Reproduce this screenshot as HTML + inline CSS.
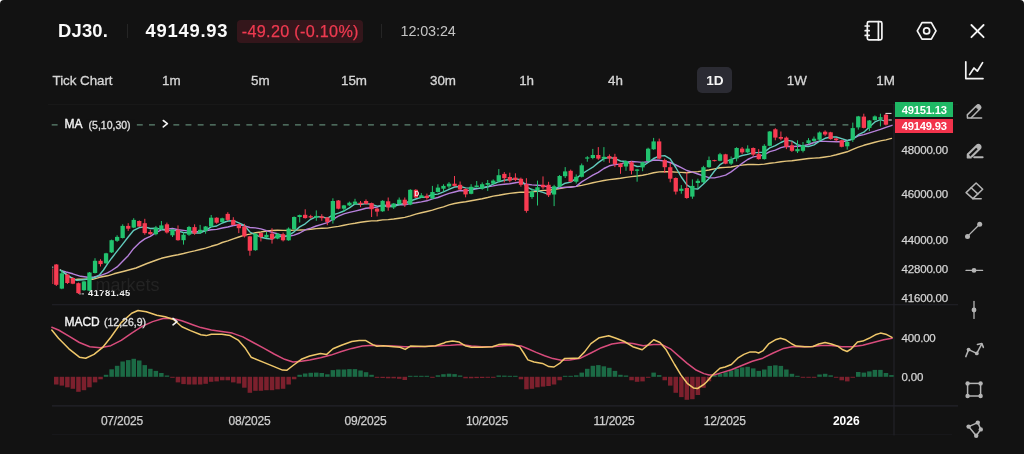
<!DOCTYPE html>
<html><head><meta charset="utf-8"><title>DJ30</title>
<style>
html,body{margin:0;padding:0;background:#fff;}
body{width:1024px;height:454px;overflow:hidden;font-family:"Liberation Sans",sans-serif;}
#app{position:relative;width:1024px;height:454px;background:#121212;border-radius:4px 4px 0 0;overflow:hidden;}
svg{position:absolute;left:0;top:0;}
.t{position:absolute;white-space:nowrap;line-height:1;}
.L{transform:translateY(-50%);}
.C{transform:translate(-50%,-50%);}
.badge{position:absolute;left:237px;top:19.5px;width:126px;height:23px;background:#34161b;border-radius:4px;}
.tf{position:absolute;left:697.2px;top:67.2px;width:35.2px;height:26px;background:#2b2b33;border-radius:5px;}
.div{position:absolute;width:1px;height:14px;top:24px;background:#252525;}
.lg{position:absolute;left:895px;top:102.3px;width:57.6px;height:15.2px;background:#1fb865;}
.lr{position:absolute;left:895px;top:118.6px;width:57.6px;height:14.8px;background:#f2334b;}
#layer{position:absolute;left:0;top:0;width:1024px;height:454px;filter:blur(0.45px);}
</style></head><body><div id="app"><div id="layer">
<div class="badge"></div><div class="tf"></div>
<div class="div" style="left:126.5px"></div><div class="div" style="left:381px"></div>
<svg width="1024" height="454" viewBox="0 0 1024 454">
<line x1="48" y1="104.5" x2="958" y2="104.5" stroke="#181818" stroke-width="1"/>
<line x1="52" y1="304.8" x2="958" y2="304.8" stroke="#23232a" stroke-width="1.1"/>
<line x1="52" y1="405.9" x2="958" y2="405.9" stroke="#23232a" stroke-width="1.1"/>
<line x1="52" y1="434.6" x2="952" y2="434.6" stroke="#19191c" stroke-width="1"/>
<line x1="894" y1="104" x2="894" y2="435.5" stroke="#23232a" stroke-width="1.1"/>
<line x1="51.7" y1="124.9" x2="848.4" y2="124.9" stroke="#5f8573" stroke-width="1.1" stroke-dasharray="5.9 6.266"/>
<polyline points="60.4,270 64.9,273.4 70,277 74.8,279.6 78,279.3 92.6,279.3 99.6,277.3 107.5,275.8 114,273.8 125,271 136,268 147,263.5 158,259.5 161.4,258.3 166.9,257 172.5,255.7 178,254.7 183.5,253.5 189,252.1 194.6,250.9 200.1,249.5 205.6,248.1 211.2,246.3 216.7,244.8 222.2,242.5 227.8,240.8 233.3,238.8 238.8,237 244.4,235.1 249.9,234.1 255.4,232.8 260.9,232 266.5,231 272,230.5 277.5,230.3 283.1,230.4 288.6,230.5 294.1,230.1 299.7,230 305.2,229.7 310.7,229.2 316.3,228.6 321.8,228.2 327.3,228.1 332.9,227.1 338.4,226.4 343.9,225.2 349.4,224.1 355,223.3 360.5,222.3 366,221.5 371.6,220.9 377.1,220.7 382.6,219.9 388.2,219.6 393.7,219 399.2,218.2 404.8,217.4 410.3,215.9 415.8,214.1 421.3,212.8 426.9,211.5 432.4,210.1 437.9,208.4 443.5,206.8 449,204.9 454.5,203.5 460.1,202.5 465.6,201.8 471.1,200.8 476.7,199.7 482.2,198.7 487.7,197.5 493.2,196.1 498.8,195.3 504.3,194.3 509.8,193.4 515.4,192.7 520.9,192.1 526.4,192.3 532,191.9 537.5,191.2 543,190.4 548.6,190.2 554.1,189.5 559.6,188.6 565.2,187.6 570.7,186.9 576.2,186.4 581.7,185.4 587.3,184.1 592.8,182.7 598.3,181.6 603.9,180.5 609.4,179.6 614.9,179 620.5,178.3 626,177.4 631.5,176.6 637.1,176 642.6,175.2 648.1,174.1 653.6,172.7 659.2,171.9 664.7,171.7 670.2,171.7 675.8,172.1 681.3,172.4 686.8,172.8 692.4,172 697.9,171.6 703.4,170.9 709,170 714.5,168.9 720,167.8 725.6,167.4 731.1,167 736.6,165.9 742.1,165.1 747.7,164.5 753.2,164.4 758.7,164.6 764.3,164.1 769.8,163.3 775.3,162.6 780.9,161.7 786.4,161.1 791.9,160.7 797.5,160 803,159.2 808.5,158.5 814,158.1 819.6,157.8 825.1,157 830.6,156.1 836.2,154.8 841.7,153.3 847.2,151.8 852.8,149.4 858.3,147.1 863.8,145.3 869.4,143.8 874.9,142.3 880.4,140.9 885.9,139.9 891.5,138.4" fill="none" stroke="#e3c47c" stroke-width="1.4" stroke-linejoin="round" stroke-linecap="round" />
<polyline points="60.4,270.3 66,272 72.8,273.8 80.7,276.3 87.7,277.3 94,277 99.6,275.8 107.5,272.9 111.6,270.5 117.1,266.9 122.7,261.2 128.2,255.7 133.7,248.4 139.3,242.9 144.8,238.9 150.3,236.3 155.9,232.6 161.4,229.8 166.9,229.1 172.5,228.4 178,229.8 183.5,230.4 189,231.1 194.6,231.8 200.1,231.5 205.6,230.7 211.2,229.7 216.7,229.4 222.2,228 227.8,227 233.3,225.5 238.8,224.8 244.4,225.8 249.9,227.5 255.4,227.9 260.9,228.9 266.5,230.7 272,232.3 277.5,233.8 283.1,235.9 288.6,236.3 294.1,235.1 299.7,233 305.2,229.8 310.7,228.1 316.3,226 321.8,224.3 327.3,222.6 332.9,219.3 338.4,216.2 343.9,213.9 349.4,212.4 355,211.1 360.5,209.7 366,208.3 371.6,207.7 377.1,207 382.6,204.9 388.2,205.6 393.7,205 399.2,204.5 404.8,204.7 410.3,203.5 415.8,202.8 421.3,201.9 426.9,200.8 432.4,198.9 437.9,197.5 443.5,195.4 449,193.4 454.5,192 460.1,190.5 465.6,191 471.1,189.9 476.7,188.9 482.2,187.6 487.7,186.7 493.2,185.9 498.8,184.9 504.3,184.3 509.8,183.8 515.4,182.8 520.9,181.9 526.4,184.3 532,184.9 537.5,185.2 543,185.6 548.6,187.1 554.1,188.2 559.6,188 565.2,187.1 570.7,187.2 576.2,186.4 581.7,181.9 587.3,178.5 592.8,175.2 598.3,172.4 603.9,168.5 609.4,165.8 614.9,164.6 620.5,164.1 626,162.1 631.5,161.5 637.1,161.9 642.6,162.4 648.1,161.8 653.6,160 659.2,160.2 664.7,161.1 670.2,162.5 675.8,165 681.3,167.7 686.8,170.5 692.4,172.1 697.9,174 703.4,175.8 709,177.7 714.5,177.9 720,176.6 725.6,175.1 731.1,171.9 736.6,167.8 742.1,163.3 747.7,159.5 753.2,156.9 758.7,156.1 764.3,154.7 769.8,151.7 775.3,150.1 780.9,147.6 786.4,146.3 791.9,146.6 797.5,146.3 803,145.9 808.5,144.5 814,142.5 819.6,141.1 825.1,141.4 830.6,141.6 836.2,141.7 841.7,141.7 847.2,140.8 852.8,138.7 858.3,135.8 863.8,134.6 869.4,132.8 874.9,131.2 880.4,129.4 885.9,127.3 892,125.3" fill="none" stroke="#b781db" stroke-width="1.4" stroke-linejoin="round" stroke-linecap="round" />
<polyline points="60.4,270 64.9,273.4 70,277 76.8,280.3 83,279.8 89.7,278.8 95,277.5 99.6,274.8 103.5,270 107.5,263.9 111.6,258.2 117.1,251.1 122.7,244.1 128.2,237 133.7,230.3 139.3,227.6 144.8,226.8 150.3,228.5 155.9,228.3 161.4,229.4 166.9,230.6 172.5,229.9 178,231.1 183.5,232.5 189,232.8 194.6,233 200.1,233 205.6,230.3 211.2,226.9 216.7,226 222.2,223 227.8,221 233.3,220.7 238.8,222.8 244.4,225.5 249.9,232 255.4,234.8 260.9,237.2 266.5,238.5 272,239.1 277.5,235.7 283.1,237 288.6,235.3 294.1,231.8 299.7,226.9 305.2,223.8 310.7,219.3 316.3,216.7 321.8,216.9 327.3,218.3 332.9,214.9 338.4,213.1 343.9,211 349.4,207.9 355,203.9 360.5,204.5 366,203.6 371.6,204.3 377.1,206.1 382.6,205.9 388.2,206.6 393.7,206.5 399.2,204.6 404.8,203.2 410.3,201 415.8,199 421.3,197.4 426.9,197 432.4,194.5 437.9,194.1 443.5,191.8 449,189.4 454.5,187 460.1,186.5 465.6,187.9 471.1,188.1 476.7,188.4 482.2,188.1 487.7,186.8 493.2,184 498.8,181.7 504.3,180.2 509.8,179.5 515.4,178.9 520.9,179.8 526.4,186.9 532,189.6 537.5,190.9 543,192.4 548.6,194.4 554.1,189.5 559.6,186.4 565.2,183.2 570.7,182.1 576.2,178.4 581.7,174.2 587.3,170.5 592.8,167.2 598.3,162.6 603.9,158.6 609.4,157.3 614.9,158.6 620.5,161 626,161.5 631.5,164.3 637.1,166.5 642.6,166.1 648.1,162.5 653.6,158.5 659.2,156.1 664.7,155.6 670.2,158.9 675.8,167.5 681.3,177 686.8,184.8 692.4,188.6 697.9,189 703.4,184.1 709,178.4 714.5,171 720,164.7 725.6,161.3 731.1,159.7 736.6,157.3 742.1,155.5 747.7,154.4 753.2,152.6 758.7,152.5 764.3,152.1 769.8,147.9 775.3,145.7 780.9,142.5 786.4,140.1 791.9,141.1 797.5,144.6 803,146.2 808.5,146.5 814,144.8 819.6,141.2 825.1,138.3 830.6,137 836.2,137 841.7,138.6 847.2,140.5 852.8,139.2 858.3,134.7 863.8,132.2 869.4,127 874.9,121.9 880.4,119.7 885.9,121.3" fill="none" stroke="#62cbbd" stroke-width="1.4" stroke-linejoin="round" stroke-linecap="round" />
<rect x="52.2" y="269" width="1.1" height="15" fill="#f83b52" opacity="0.75"/>
<rect x="52.2" y="266.4" width="1.1" height="2" fill="#d8d8d8" opacity="0.7"/>
<rect x="55.8" y="264" width="1" height="22" fill="#f83b52"/>
<rect x="54.1" y="264.5" width="4.3" height="20.3" fill="#f83b52"/>
<rect x="61.3" y="270.2" width="1" height="19" fill="#22c36f"/>
<rect x="59.7" y="273.3" width="4.3" height="15.3" fill="#22c36f"/>
<rect x="66.9" y="274" width="1" height="10" fill="#f83b52"/>
<rect x="65.2" y="274.6" width="4.3" height="8.4" fill="#f83b52"/>
<rect x="72.4" y="277.3" width="1" height="6.9" fill="#f83b52"/>
<rect x="70.7" y="278" width="4.3" height="5.7" fill="#f83b52"/>
<rect x="77.9" y="282.5" width="1" height="11.5" fill="#f83b52"/>
<rect x="76.3" y="283.2" width="4.3" height="9.9" fill="#f83b52"/>
<rect x="83.5" y="280.8" width="1" height="10" fill="#22c36f"/>
<rect x="81.8" y="281.4" width="4.3" height="8.8" fill="#22c36f"/>
<rect x="89" y="272" width="1" height="19.2" fill="#22c36f"/>
<rect x="87.3" y="272.5" width="4.3" height="18.2" fill="#22c36f"/>
<rect x="94.5" y="258.2" width="1" height="15.3" fill="#22c36f"/>
<rect x="92.9" y="260.8" width="4.3" height="12.2" fill="#22c36f"/>
<rect x="100" y="259.2" width="1" height="7.3" fill="#f83b52"/>
<rect x="98.4" y="260.8" width="4.3" height="3.3" fill="#f83b52"/>
<rect x="105.6" y="252.8" width="1" height="11" fill="#22c36f"/>
<rect x="103.9" y="253.3" width="4.3" height="10" fill="#22c36f"/>
<rect x="111.1" y="239.6" width="1" height="13.4" fill="#22c36f"/>
<rect x="109.5" y="240.2" width="4.3" height="12.2" fill="#22c36f"/>
<rect x="116.6" y="235.3" width="1" height="6.6" fill="#22c36f"/>
<rect x="115" y="236.9" width="4.3" height="3.9" fill="#22c36f"/>
<rect x="122.2" y="224.3" width="1" height="14.2" fill="#22c36f"/>
<rect x="120.5" y="225.9" width="4.3" height="12.1" fill="#22c36f"/>
<rect x="127.7" y="223.2" width="1" height="7.7" fill="#f83b52"/>
<rect x="126.1" y="225.9" width="4.3" height="2.8" fill="#f83b52"/>
<rect x="133.2" y="218.2" width="1" height="9.9" fill="#22c36f"/>
<rect x="131.6" y="219.9" width="4.3" height="7.7" fill="#22c36f"/>
<rect x="138.8" y="220.4" width="1" height="6.6" fill="#f83b52"/>
<rect x="137.1" y="221" width="4.3" height="5.5" fill="#f83b52"/>
<rect x="144.3" y="218.8" width="1" height="15.9" fill="#f83b52"/>
<rect x="142.6" y="223.2" width="4.3" height="9.9" fill="#f83b52"/>
<rect x="149.8" y="229.8" width="1" height="4.9" fill="#f83b52"/>
<rect x="148.2" y="232" width="4.3" height="2.2" fill="#f83b52"/>
<rect x="155.4" y="225.9" width="1" height="9.4" fill="#22c36f"/>
<rect x="153.7" y="227.6" width="4.3" height="6.6" fill="#22c36f"/>
<rect x="160.9" y="221" width="1" height="9.3" fill="#22c36f"/>
<rect x="159.2" y="225.4" width="4.3" height="3.8" fill="#22c36f"/>
<rect x="166.4" y="222.6" width="1" height="11" fill="#f83b52"/>
<rect x="164.8" y="224.3" width="4.3" height="8.2" fill="#f83b52"/>
<rect x="172" y="229.2" width="1" height="7.8" fill="#22c36f"/>
<rect x="170.3" y="229.8" width="4.3" height="5.5" fill="#22c36f"/>
<rect x="177.5" y="225.4" width="1" height="15.3" fill="#f83b52"/>
<rect x="175.8" y="229.8" width="4.3" height="10.4" fill="#f83b52"/>
<rect x="183" y="232.5" width="1" height="12.1" fill="#22c36f"/>
<rect x="181.4" y="234.7" width="4.3" height="5.5" fill="#22c36f"/>
<rect x="188.5" y="225.9" width="1" height="9.9" fill="#22c36f"/>
<rect x="186.9" y="227" width="4.3" height="7.7" fill="#22c36f"/>
<rect x="194.1" y="224.3" width="1" height="10.5" fill="#f83b52"/>
<rect x="192.4" y="227.1" width="4.3" height="6.4" fill="#f83b52"/>
<rect x="199.6" y="224.9" width="1" height="8.8" fill="#22c36f"/>
<rect x="198" y="229.8" width="4.3" height="2.8" fill="#22c36f"/>
<rect x="205.1" y="226" width="1" height="7.7" fill="#22c36f"/>
<rect x="203.5" y="226.5" width="4.3" height="4.4" fill="#22c36f"/>
<rect x="210.7" y="215" width="1" height="12" fill="#22c36f"/>
<rect x="209" y="217.7" width="4.3" height="8.8" fill="#22c36f"/>
<rect x="216.2" y="217.2" width="1" height="6.6" fill="#f83b52"/>
<rect x="214.5" y="217.7" width="4.3" height="5" fill="#f83b52"/>
<rect x="221.7" y="217.7" width="1" height="5" fill="#22c36f"/>
<rect x="220.1" y="218.3" width="4.3" height="3.8" fill="#22c36f"/>
<rect x="227.3" y="212.2" width="1" height="8.8" fill="#f83b52"/>
<rect x="225.6" y="213.9" width="4.3" height="6" fill="#f83b52"/>
<rect x="232.8" y="217.2" width="1" height="8.2" fill="#f83b52"/>
<rect x="231.1" y="219.9" width="4.3" height="5" fill="#f83b52"/>
<rect x="238.3" y="223.8" width="1" height="9.3" fill="#f83b52"/>
<rect x="236.7" y="224.3" width="4.3" height="3.9" fill="#f83b52"/>
<rect x="243.9" y="223.8" width="1" height="13.7" fill="#f83b52"/>
<rect x="242.2" y="226.5" width="4.3" height="9.9" fill="#f83b52"/>
<rect x="249.4" y="235.9" width="1" height="19.8" fill="#f83b52"/>
<rect x="247.7" y="236.4" width="4.3" height="14.3" fill="#f83b52"/>
<rect x="254.9" y="233.1" width="1" height="17.6" fill="#22c36f"/>
<rect x="253.3" y="233.7" width="4.3" height="16.5" fill="#22c36f"/>
<rect x="260.4" y="232.6" width="1" height="8.8" fill="#f83b52"/>
<rect x="258.8" y="233.1" width="4.3" height="3.9" fill="#f83b52"/>
<rect x="266" y="232" width="1" height="6" fill="#22c36f"/>
<rect x="264.3" y="234.8" width="4.3" height="2.7" fill="#22c36f"/>
<rect x="271.5" y="228.2" width="1" height="15.4" fill="#f83b52"/>
<rect x="269.9" y="233.7" width="4.3" height="5.5" fill="#f83b52"/>
<rect x="277" y="233.1" width="1" height="6.1" fill="#22c36f"/>
<rect x="275.4" y="233.7" width="4.3" height="4.9" fill="#22c36f"/>
<rect x="282.6" y="232.6" width="1" height="8.8" fill="#f83b52"/>
<rect x="280.9" y="234.2" width="4.3" height="6.1" fill="#f83b52"/>
<rect x="288.1" y="227.4" width="1" height="13.4" fill="#22c36f"/>
<rect x="286.5" y="228.6" width="4.3" height="11.7" fill="#22c36f"/>
<rect x="293.6" y="216.4" width="1" height="13.8" fill="#22c36f"/>
<rect x="292" y="217" width="4.3" height="12.1" fill="#22c36f"/>
<rect x="299.2" y="214.6" width="1" height="7.9" fill="#22c36f"/>
<rect x="297.5" y="215.1" width="4.3" height="1.9" fill="#22c36f"/>
<rect x="304.7" y="209.3" width="1" height="9.3" fill="#f83b52"/>
<rect x="303" y="214.8" width="4.3" height="3.3" fill="#f83b52"/>
<rect x="310.2" y="214.8" width="1" height="3.8" fill="#f83b52"/>
<rect x="308.6" y="216.2" width="4.3" height="1.3" fill="#f83b52"/>
<rect x="315.8" y="210.4" width="1" height="10.4" fill="#22c36f"/>
<rect x="314.1" y="215.9" width="4.3" height="1.6" fill="#22c36f"/>
<rect x="321.3" y="214.2" width="1" height="6.6" fill="#f83b52"/>
<rect x="319.6" y="216.4" width="4.3" height="1.7" fill="#f83b52"/>
<rect x="326.8" y="217" width="1" height="8.2" fill="#f83b52"/>
<rect x="325.2" y="217.5" width="4.3" height="4.4" fill="#f83b52"/>
<rect x="332.4" y="198.3" width="1" height="25.3" fill="#22c36f"/>
<rect x="330.7" y="201" width="4.3" height="19.3" fill="#22c36f"/>
<rect x="337.9" y="200" width="1" height="9.3" fill="#f83b52"/>
<rect x="336.2" y="200.5" width="4.3" height="8.2" fill="#f83b52"/>
<rect x="343.4" y="204.9" width="1" height="7.1" fill="#22c36f"/>
<rect x="341.8" y="205.4" width="4.3" height="3.3" fill="#22c36f"/>
<rect x="348.9" y="201.6" width="1" height="4.4" fill="#22c36f"/>
<rect x="347.3" y="202.7" width="4.3" height="2.7" fill="#22c36f"/>
<rect x="354.5" y="198.8" width="1" height="6.1" fill="#22c36f"/>
<rect x="352.8" y="201.6" width="4.3" height="2.2" fill="#22c36f"/>
<rect x="360" y="201" width="1" height="6.1" fill="#f83b52"/>
<rect x="358.4" y="202.7" width="4.3" height="1.6" fill="#f83b52"/>
<rect x="365.5" y="199.4" width="1" height="4.9" fill="#f83b52"/>
<rect x="363.9" y="201" width="4.3" height="2.8" fill="#f83b52"/>
<rect x="371.1" y="202.6" width="1" height="14.4" fill="#f83b52"/>
<rect x="369.4" y="203.1" width="4.3" height="6.1" fill="#f83b52"/>
<rect x="376.6" y="208" width="1" height="8.4" fill="#f83b52"/>
<rect x="374.9" y="208.6" width="4.3" height="3" fill="#f83b52"/>
<rect x="382.1" y="200.2" width="1" height="11.6" fill="#22c36f"/>
<rect x="380.5" y="200.8" width="4.3" height="10.5" fill="#22c36f"/>
<rect x="387.7" y="197.5" width="1" height="13.2" fill="#f83b52"/>
<rect x="386" y="201.3" width="4.3" height="6.1" fill="#f83b52"/>
<rect x="393.2" y="203" width="1" height="6" fill="#22c36f"/>
<rect x="391.5" y="203.5" width="4.3" height="3.9" fill="#22c36f"/>
<rect x="398.7" y="197.5" width="1" height="7.1" fill="#22c36f"/>
<rect x="397.1" y="199.7" width="4.3" height="4.4" fill="#22c36f"/>
<rect x="404.3" y="197.5" width="1" height="9.4" fill="#f83b52"/>
<rect x="402.6" y="199.7" width="4.3" height="4.9" fill="#f83b52"/>
<rect x="409.8" y="189.2" width="1" height="16" fill="#22c36f"/>
<rect x="408.1" y="189.8" width="4.3" height="14.8" fill="#22c36f"/>
<rect x="415.3" y="189.2" width="1" height="8.8" fill="#f83b52"/>
<rect x="413.7" y="189.8" width="4.3" height="7.7" fill="#f83b52"/>
<rect x="420.8" y="193.1" width="1" height="4.9" fill="#22c36f"/>
<rect x="419.2" y="195.3" width="4.3" height="2.2" fill="#22c36f"/>
<rect x="426.4" y="193.6" width="1" height="6.1" fill="#f83b52"/>
<rect x="424.7" y="195.8" width="4.3" height="2.2" fill="#f83b52"/>
<rect x="431.9" y="185.9" width="1" height="13.2" fill="#22c36f"/>
<rect x="430.3" y="192" width="4.3" height="6.6" fill="#22c36f"/>
<rect x="437.4" y="184.3" width="1" height="8.2" fill="#22c36f"/>
<rect x="435.8" y="187.6" width="4.3" height="4.4" fill="#22c36f"/>
<rect x="443" y="184.3" width="1" height="7.1" fill="#22c36f"/>
<rect x="441.3" y="185.9" width="4.3" height="2.8" fill="#22c36f"/>
<rect x="448.5" y="182.1" width="1" height="6.6" fill="#22c36f"/>
<rect x="446.9" y="183.7" width="4.3" height="2.8" fill="#22c36f"/>
<rect x="454" y="176" width="1" height="10.5" fill="#f83b52"/>
<rect x="452.4" y="183.7" width="4.3" height="2.2" fill="#f83b52"/>
<rect x="459.6" y="181.5" width="1" height="8.5" fill="#f83b52"/>
<rect x="457.9" y="184.8" width="4.3" height="4.7" fill="#f83b52"/>
<rect x="465.1" y="188.4" width="1" height="8.9" fill="#f83b52"/>
<rect x="463.4" y="188.9" width="4.3" height="5.5" fill="#f83b52"/>
<rect x="470.6" y="184.2" width="1" height="10.1" fill="#22c36f"/>
<rect x="469" y="186.8" width="4.3" height="7" fill="#22c36f"/>
<rect x="476.2" y="181" width="1" height="6.5" fill="#22c36f"/>
<rect x="474.5" y="185.5" width="4.3" height="1.5" fill="#22c36f"/>
<rect x="481.7" y="182.4" width="1" height="7.3" fill="#22c36f"/>
<rect x="480" y="184.2" width="4.3" height="4.3" fill="#22c36f"/>
<rect x="487.2" y="180" width="1" height="10.9" fill="#22c36f"/>
<rect x="485.6" y="183" width="4.3" height="1.8" fill="#22c36f"/>
<rect x="492.7" y="179.4" width="1" height="4.8" fill="#22c36f"/>
<rect x="491.1" y="180.6" width="4.3" height="3" fill="#22c36f"/>
<rect x="498.3" y="169.1" width="1" height="12.7" fill="#22c36f"/>
<rect x="496.6" y="175.2" width="4.3" height="6" fill="#22c36f"/>
<rect x="503.8" y="172.1" width="1" height="10.3" fill="#f83b52"/>
<rect x="502.2" y="173.9" width="4.3" height="4.3" fill="#f83b52"/>
<rect x="509.3" y="172.7" width="1" height="9.7" fill="#f83b52"/>
<rect x="507.7" y="177" width="4.3" height="3.6" fill="#f83b52"/>
<rect x="514.9" y="173.3" width="1" height="7.9" fill="#f83b52"/>
<rect x="513.2" y="177.6" width="4.3" height="2.4" fill="#f83b52"/>
<rect x="520.4" y="177.6" width="1" height="9.1" fill="#f83b52"/>
<rect x="518.8" y="178.8" width="4.3" height="6" fill="#f83b52"/>
<rect x="525.9" y="178.2" width="1" height="34.5" fill="#f83b52"/>
<rect x="524.3" y="184.2" width="4.3" height="26.7" fill="#f83b52"/>
<rect x="531.5" y="188.5" width="1" height="10.3" fill="#22c36f"/>
<rect x="529.8" y="191.5" width="4.3" height="5.5" fill="#22c36f"/>
<rect x="537" y="180.6" width="1" height="24.9" fill="#22c36f"/>
<rect x="535.3" y="187.3" width="4.3" height="3" fill="#22c36f"/>
<rect x="542.5" y="176.4" width="1" height="12.7" fill="#f83b52"/>
<rect x="540.9" y="184.8" width="4.3" height="2.5" fill="#f83b52"/>
<rect x="548.1" y="181.8" width="1" height="15.2" fill="#f83b52"/>
<rect x="546.4" y="184.8" width="4.3" height="10.4" fill="#f83b52"/>
<rect x="553.6" y="184.8" width="1" height="21.3" fill="#22c36f"/>
<rect x="551.9" y="186.3" width="4.3" height="8.2" fill="#22c36f"/>
<rect x="559.1" y="175" width="1" height="12" fill="#22c36f"/>
<rect x="557.5" y="176" width="4.3" height="10.5" fill="#22c36f"/>
<rect x="564.7" y="167.1" width="1" height="10.9" fill="#22c36f"/>
<rect x="563" y="171.4" width="4.3" height="4.8" fill="#22c36f"/>
<rect x="570.2" y="169.6" width="1" height="12.7" fill="#f83b52"/>
<rect x="568.5" y="170.8" width="4.3" height="10.9" fill="#f83b52"/>
<rect x="575.7" y="174.4" width="1" height="9.1" fill="#22c36f"/>
<rect x="574.1" y="176.8" width="4.3" height="4.9" fill="#22c36f"/>
<rect x="581.2" y="163.5" width="1" height="13.9" fill="#22c36f"/>
<rect x="579.6" y="165.3" width="4.3" height="11.5" fill="#22c36f"/>
<rect x="586.8" y="156.2" width="1" height="5.5" fill="#22c36f"/>
<rect x="585.1" y="157.4" width="4.3" height="1.2" fill="#22c36f"/>
<rect x="592.3" y="148.9" width="1" height="10.3" fill="#22c36f"/>
<rect x="590.7" y="155" width="4.3" height="3" fill="#22c36f"/>
<rect x="597.8" y="147.1" width="1" height="12.7" fill="#f83b52"/>
<rect x="596.2" y="155" width="4.3" height="3.6" fill="#f83b52"/>
<rect x="603.4" y="147.1" width="1" height="14.6" fill="#22c36f"/>
<rect x="601.7" y="156.8" width="4.3" height="1.8" fill="#22c36f"/>
<rect x="608.9" y="154.4" width="1" height="8.5" fill="#f83b52"/>
<rect x="607.2" y="156.2" width="4.3" height="2.4" fill="#f83b52"/>
<rect x="614.4" y="153.8" width="1" height="13.3" fill="#f83b52"/>
<rect x="612.8" y="156.8" width="4.3" height="7.3" fill="#f83b52"/>
<rect x="620" y="163" width="1" height="10.8" fill="#f83b52"/>
<rect x="618.3" y="163.5" width="4.3" height="3.6" fill="#f83b52"/>
<rect x="625.5" y="160.5" width="1" height="10.3" fill="#22c36f"/>
<rect x="623.8" y="161.1" width="4.3" height="5.4" fill="#22c36f"/>
<rect x="631" y="161.1" width="1" height="13.3" fill="#f83b52"/>
<rect x="629.4" y="162.3" width="4.3" height="8.5" fill="#f83b52"/>
<rect x="636.6" y="168.9" width="1" height="12.8" fill="#22c36f"/>
<rect x="634.9" y="169.5" width="4.3" height="1.3" fill="#22c36f"/>
<rect x="642.1" y="161.6" width="1" height="9.6" fill="#22c36f"/>
<rect x="640.4" y="162.2" width="4.3" height="5.2" fill="#22c36f"/>
<rect x="647.6" y="147.7" width="1" height="13.8" fill="#22c36f"/>
<rect x="646" y="148.7" width="4.3" height="12.3" fill="#22c36f"/>
<rect x="653.1" y="137.9" width="1" height="11.9" fill="#22c36f"/>
<rect x="651.5" y="141.4" width="4.3" height="7.9" fill="#22c36f"/>
<rect x="658.7" y="138.6" width="1" height="20.6" fill="#f83b52"/>
<rect x="657" y="141.4" width="4.3" height="17.2" fill="#f83b52"/>
<rect x="664.2" y="158.6" width="1" height="14.4" fill="#f83b52"/>
<rect x="662.6" y="160.1" width="4.3" height="7.1" fill="#f83b52"/>
<rect x="669.7" y="162.9" width="1" height="19.4" fill="#f83b52"/>
<rect x="668.1" y="167.2" width="4.3" height="11.5" fill="#f83b52"/>
<rect x="675.3" y="177.4" width="1" height="17.1" fill="#f83b52"/>
<rect x="673.6" y="178" width="4.3" height="13.6" fill="#f83b52"/>
<rect x="680.8" y="185.1" width="1" height="8.6" fill="#22c36f"/>
<rect x="679.2" y="188.7" width="4.3" height="2.2" fill="#22c36f"/>
<rect x="686.3" y="172.2" width="1" height="26.6" fill="#f83b52"/>
<rect x="684.7" y="188" width="4.3" height="10" fill="#f83b52"/>
<rect x="691.9" y="179.4" width="1" height="19.4" fill="#22c36f"/>
<rect x="690.2" y="185.9" width="4.3" height="10.7" fill="#22c36f"/>
<rect x="697.4" y="178.7" width="1" height="9.3" fill="#22c36f"/>
<rect x="695.7" y="180.8" width="4.3" height="2.2" fill="#22c36f"/>
<rect x="702.9" y="165.8" width="1" height="17.1" fill="#22c36f"/>
<rect x="701.3" y="167.2" width="4.3" height="15.1" fill="#22c36f"/>
<rect x="708.5" y="156.5" width="1" height="11.3" fill="#22c36f"/>
<rect x="706.8" y="160.1" width="4.3" height="7.1" fill="#22c36f"/>
<rect x="714" y="159.8" width="1" height="1.6" fill="#f83b52"/>
<rect x="712.3" y="160.1" width="4.3" height="1" fill="#f83b52"/>
<rect x="719.5" y="152.9" width="1" height="8.4" fill="#22c36f"/>
<rect x="717.9" y="154.3" width="4.3" height="6.5" fill="#22c36f"/>
<rect x="725.1" y="153.8" width="1" height="10.4" fill="#f83b52"/>
<rect x="723.4" y="154.3" width="4.3" height="9.4" fill="#f83b52"/>
<rect x="730.6" y="156.5" width="1" height="8.5" fill="#22c36f"/>
<rect x="728.9" y="159.2" width="4.3" height="4.4" fill="#22c36f"/>
<rect x="736.1" y="147.2" width="1" height="14.2" fill="#22c36f"/>
<rect x="734.5" y="148" width="4.3" height="10.5" fill="#22c36f"/>
<rect x="741.6" y="147" width="1" height="7.1" fill="#f83b52"/>
<rect x="740" y="148.6" width="4.3" height="3.8" fill="#f83b52"/>
<rect x="747.2" y="145.3" width="1" height="8.2" fill="#22c36f"/>
<rect x="745.5" y="148.6" width="4.3" height="3.8" fill="#22c36f"/>
<rect x="752.7" y="147.4" width="1" height="8.9" fill="#f83b52"/>
<rect x="751.1" y="148" width="4.3" height="6.6" fill="#f83b52"/>
<rect x="758.2" y="149.1" width="1" height="10.5" fill="#f83b52"/>
<rect x="756.6" y="154.1" width="4.3" height="5" fill="#f83b52"/>
<rect x="763.8" y="144.2" width="1" height="15.4" fill="#22c36f"/>
<rect x="762.1" y="145.8" width="4.3" height="13.3" fill="#22c36f"/>
<rect x="769.3" y="131" width="1" height="15.3" fill="#22c36f"/>
<rect x="767.6" y="131.5" width="4.3" height="14.3" fill="#22c36f"/>
<rect x="774.8" y="128.2" width="1" height="12.1" fill="#f83b52"/>
<rect x="773.2" y="129.3" width="4.3" height="8.3" fill="#f83b52"/>
<rect x="780.4" y="131.5" width="1" height="8.8" fill="#f83b52"/>
<rect x="778.7" y="137" width="4.3" height="1.7" fill="#f83b52"/>
<rect x="785.9" y="136.5" width="1" height="12.6" fill="#f83b52"/>
<rect x="784.2" y="137.6" width="4.3" height="9.3" fill="#f83b52"/>
<rect x="791.4" y="141.4" width="1" height="10.5" fill="#f83b52"/>
<rect x="789.8" y="145.3" width="4.3" height="5.5" fill="#f83b52"/>
<rect x="797" y="140.3" width="1" height="12.7" fill="#22c36f"/>
<rect x="795.3" y="149.1" width="4.3" height="2.2" fill="#22c36f"/>
<rect x="802.5" y="142" width="1" height="10.4" fill="#22c36f"/>
<rect x="800.8" y="145.3" width="4.3" height="5.5" fill="#22c36f"/>
<rect x="808" y="138.1" width="1" height="6.1" fill="#22c36f"/>
<rect x="806.4" y="140.3" width="4.3" height="2.8" fill="#22c36f"/>
<rect x="813.5" y="136.5" width="1" height="6" fill="#22c36f"/>
<rect x="811.9" y="138.7" width="4.3" height="2.2" fill="#22c36f"/>
<rect x="819.1" y="131.5" width="1" height="8.7" fill="#22c36f"/>
<rect x="817.4" y="132.5" width="4.3" height="7.2" fill="#22c36f"/>
<rect x="824.6" y="130.4" width="1" height="5.5" fill="#f83b52"/>
<rect x="823" y="131.7" width="4.3" height="2.8" fill="#f83b52"/>
<rect x="830.1" y="131.8" width="1" height="7.8" fill="#f83b52"/>
<rect x="828.5" y="132.3" width="4.3" height="6.8" fill="#f83b52"/>
<rect x="835.7" y="138" width="1" height="3.3" fill="#f83b52"/>
<rect x="834" y="138.5" width="4.3" height="1.7" fill="#f83b52"/>
<rect x="841.2" y="139.7" width="1" height="7.6" fill="#f83b52"/>
<rect x="839.6" y="140.2" width="4.3" height="6.6" fill="#f83b52"/>
<rect x="846.7" y="140.8" width="1" height="8.8" fill="#22c36f"/>
<rect x="845.1" y="141.9" width="4.3" height="4.4" fill="#22c36f"/>
<rect x="852.3" y="122.6" width="1" height="19.3" fill="#22c36f"/>
<rect x="850.6" y="128.1" width="4.3" height="11.5" fill="#22c36f"/>
<rect x="857.8" y="115.9" width="1" height="13.7" fill="#22c36f"/>
<rect x="856.1" y="116.4" width="4.3" height="11" fill="#22c36f"/>
<rect x="863.3" y="113.7" width="1" height="14.7" fill="#f83b52"/>
<rect x="861.7" y="116.6" width="4.3" height="11.3" fill="#f83b52"/>
<rect x="868.9" y="120" width="1" height="11.1" fill="#22c36f"/>
<rect x="867.2" y="120.5" width="4.3" height="7.4" fill="#22c36f"/>
<rect x="874.4" y="115.4" width="1" height="5.2" fill="#22c36f"/>
<rect x="872.7" y="116.4" width="4.3" height="3.7" fill="#22c36f"/>
<rect x="879.9" y="113.7" width="1" height="12.7" fill="#22c36f"/>
<rect x="878.3" y="117.2" width="4.3" height="1.7" fill="#22c36f"/>
<rect x="885.4" y="113.5" width="1" height="12" fill="#f83b52"/>
<rect x="883.8" y="114.7" width="4.3" height="10" fill="#f83b52"/>
<text x="414.4" y="196.2" font-family="Liberation Sans, sans-serif" font-size="6.6" font-weight="700" fill="#f4dfe2">D</text>
<line x1="885.5" y1="113.4" x2="891.5" y2="113.4" stroke="#e8e8e8" stroke-width="1"/>
<line x1="888.5" y1="120" x2="891.8" y2="120" stroke="#e8e8e8" stroke-width="1"/>
<rect x="54" y="376.8" width="4.5" height="7.7" fill="#7c202d"/>
<rect x="59.6" y="376.8" width="4.5" height="8.8" fill="#7c202d"/>
<rect x="65.1" y="376.8" width="4.5" height="10.5" fill="#7c202d"/>
<rect x="70.6" y="376.8" width="4.5" height="12" fill="#7c202d"/>
<rect x="76.2" y="376.8" width="4.5" height="15" fill="#7c202d"/>
<rect x="81.7" y="376.8" width="4.5" height="13.4" fill="#7c202d"/>
<rect x="87.2" y="376.8" width="4.5" height="10.5" fill="#7c202d"/>
<rect x="92.8" y="376.8" width="4.5" height="5.6" fill="#7c202d"/>
<rect x="98.3" y="376.8" width="4.5" height="2.5" fill="#7c202d"/>
<rect x="103.8" y="374.8" width="4.5" height="2" fill="#1b6a45"/>
<rect x="109.4" y="369.3" width="4.5" height="7.5" fill="#1b6a45"/>
<rect x="114.9" y="365.8" width="4.5" height="11" fill="#1b6a45"/>
<rect x="120.4" y="361.5" width="4.5" height="15.3" fill="#1b6a45"/>
<rect x="126" y="360.1" width="4.5" height="16.7" fill="#1b6a45"/>
<rect x="131.5" y="358.8" width="4.5" height="18" fill="#1b6a45"/>
<rect x="137" y="360.5" width="4.5" height="16.3" fill="#1b6a45"/>
<rect x="142.5" y="365.1" width="4.5" height="11.7" fill="#1b6a45"/>
<rect x="148.1" y="368.8" width="4.5" height="8" fill="#1b6a45"/>
<rect x="153.6" y="370.9" width="4.5" height="5.9" fill="#1b6a45"/>
<rect x="159.1" y="373" width="4.5" height="3.8" fill="#1b6a45"/>
<rect x="164.7" y="375.5" width="4.5" height="1.3" fill="#1b6a45"/>
<rect x="170.2" y="376.8" width="4.5" height="1" fill="#7c202d"/>
<rect x="175.7" y="376.8" width="4.5" height="5.6" fill="#7c202d"/>
<rect x="181.3" y="376.8" width="4.5" height="7.3" fill="#7c202d"/>
<rect x="186.8" y="376.8" width="4.5" height="7.7" fill="#7c202d"/>
<rect x="192.3" y="376.8" width="4.5" height="7.7" fill="#7c202d"/>
<rect x="197.9" y="376.8" width="4.5" height="7.7" fill="#7c202d"/>
<rect x="203.4" y="376.8" width="4.5" height="7" fill="#7c202d"/>
<rect x="208.9" y="376.8" width="4.5" height="5" fill="#7c202d"/>
<rect x="214.4" y="376.8" width="4.5" height="4.6" fill="#7c202d"/>
<rect x="220" y="376.8" width="4.5" height="3.5" fill="#7c202d"/>
<rect x="225.5" y="376.8" width="4.5" height="3.5" fill="#7c202d"/>
<rect x="231" y="376.8" width="4.5" height="5.6" fill="#7c202d"/>
<rect x="236.6" y="376.8" width="4.5" height="6.7" fill="#7c202d"/>
<rect x="242.1" y="376.8" width="4.5" height="10.9" fill="#7c202d"/>
<rect x="247.6" y="376.8" width="4.5" height="16" fill="#7c202d"/>
<rect x="253.2" y="376.8" width="4.5" height="14" fill="#7c202d"/>
<rect x="258.7" y="376.8" width="4.5" height="14" fill="#7c202d"/>
<rect x="264.2" y="376.8" width="4.5" height="13.4" fill="#7c202d"/>
<rect x="269.8" y="376.8" width="4.5" height="13.4" fill="#7c202d"/>
<rect x="275.3" y="376.8" width="4.5" height="12.5" fill="#7c202d"/>
<rect x="280.8" y="376.8" width="4.5" height="12" fill="#7c202d"/>
<rect x="286.4" y="376.8" width="4.5" height="7.7" fill="#7c202d"/>
<rect x="291.9" y="376.8" width="4.5" height="2.5" fill="#7c202d"/>
<rect x="297.4" y="374.8" width="4.5" height="2" fill="#1b6a45"/>
<rect x="302.9" y="373.5" width="4.5" height="3.3" fill="#1b6a45"/>
<rect x="308.5" y="372.8" width="4.5" height="4" fill="#1b6a45"/>
<rect x="314" y="372.6" width="4.5" height="4.2" fill="#1b6a45"/>
<rect x="319.5" y="373" width="4.5" height="3.8" fill="#1b6a45"/>
<rect x="325.1" y="374.3" width="4.5" height="2.5" fill="#1b6a45"/>
<rect x="330.6" y="370.1" width="4.5" height="6.7" fill="#1b6a45"/>
<rect x="336.1" y="369.5" width="4.5" height="7.3" fill="#1b6a45"/>
<rect x="341.7" y="369.5" width="4.5" height="7.3" fill="#1b6a45"/>
<rect x="347.2" y="369.1" width="4.5" height="7.7" fill="#1b6a45"/>
<rect x="352.7" y="369.1" width="4.5" height="7.7" fill="#1b6a45"/>
<rect x="358.3" y="370.5" width="4.5" height="6.3" fill="#1b6a45"/>
<rect x="363.8" y="372.2" width="4.5" height="4.6" fill="#1b6a45"/>
<rect x="369.3" y="374.8" width="4.5" height="2" fill="#1b6a45"/>
<rect x="374.8" y="376.8" width="4.5" height="1" fill="#7c202d"/>
<rect x="380.4" y="376.8" width="4.5" height="1.2" fill="#7c202d"/>
<rect x="385.9" y="376.8" width="4.5" height="1.5" fill="#7c202d"/>
<rect x="391.4" y="376.8" width="4.5" height="1.5" fill="#7c202d"/>
<rect x="397" y="376.8" width="4.5" height="2" fill="#7c202d"/>
<rect x="402.5" y="376.8" width="4.5" height="3.2" fill="#7c202d"/>
<rect x="408" y="375.8" width="4.5" height="1" fill="#1b6a45"/>
<rect x="413.6" y="375.8" width="4.5" height="1" fill="#1b6a45"/>
<rect x="419.1" y="375.8" width="4.5" height="1" fill="#1b6a45"/>
<rect x="424.6" y="375.8" width="4.5" height="1" fill="#1b6a45"/>
<rect x="430.2" y="376.8" width="4.5" height="1" fill="#7c202d"/>
<rect x="435.7" y="375.3" width="4.5" height="1.5" fill="#1b6a45"/>
<rect x="441.2" y="374.2" width="4.5" height="2.6" fill="#1b6a45"/>
<rect x="446.8" y="373.7" width="4.5" height="3.1" fill="#1b6a45"/>
<rect x="452.3" y="374.1" width="4.5" height="2.7" fill="#1b6a45"/>
<rect x="457.8" y="375.5" width="4.5" height="1.3" fill="#1b6a45"/>
<rect x="463.3" y="376.8" width="4.5" height="1.5" fill="#7c202d"/>
<rect x="468.9" y="376.8" width="4.5" height="1.5" fill="#7c202d"/>
<rect x="474.4" y="376.8" width="4.5" height="1.3" fill="#7c202d"/>
<rect x="479.9" y="376.8" width="4.5" height="1.2" fill="#7c202d"/>
<rect x="485.5" y="376.8" width="4.5" height="1" fill="#7c202d"/>
<rect x="491" y="376.8" width="4.5" height="1" fill="#7c202d"/>
<rect x="496.5" y="375.5" width="4.5" height="1.3" fill="#1b6a45"/>
<rect x="502.1" y="375.6" width="4.5" height="1.2" fill="#1b6a45"/>
<rect x="507.6" y="375.8" width="4.5" height="1" fill="#1b6a45"/>
<rect x="513.1" y="375.8" width="4.5" height="1" fill="#1b6a45"/>
<rect x="518.7" y="376.8" width="4.5" height="2.5" fill="#7c202d"/>
<rect x="524.2" y="376.8" width="4.5" height="12.5" fill="#7c202d"/>
<rect x="529.7" y="376.8" width="4.5" height="12" fill="#7c202d"/>
<rect x="535.2" y="376.8" width="4.5" height="10.5" fill="#7c202d"/>
<rect x="540.8" y="376.8" width="4.5" height="9.8" fill="#7c202d"/>
<rect x="546.3" y="376.8" width="4.5" height="9.2" fill="#7c202d"/>
<rect x="551.8" y="376.8" width="4.5" height="7.7" fill="#7c202d"/>
<rect x="557.4" y="376.8" width="4.5" height="3.5" fill="#7c202d"/>
<rect x="562.9" y="375.8" width="4.5" height="1" fill="#1b6a45"/>
<rect x="568.4" y="375.8" width="4.5" height="1" fill="#1b6a45"/>
<rect x="574" y="375.3" width="4.5" height="1.5" fill="#1b6a45"/>
<rect x="579.5" y="372.6" width="4.5" height="4.2" fill="#1b6a45"/>
<rect x="585" y="368.8" width="4.5" height="8" fill="#1b6a45"/>
<rect x="590.6" y="365.8" width="4.5" height="11" fill="#1b6a45"/>
<rect x="596.1" y="365.1" width="4.5" height="11.7" fill="#1b6a45"/>
<rect x="601.6" y="366.3" width="4.5" height="10.5" fill="#1b6a45"/>
<rect x="607.1" y="367.8" width="4.5" height="9" fill="#1b6a45"/>
<rect x="612.7" y="370.9" width="4.5" height="5.9" fill="#1b6a45"/>
<rect x="618.2" y="374.8" width="4.5" height="2" fill="#1b6a45"/>
<rect x="623.7" y="375.5" width="4.5" height="1.3" fill="#1b6a45"/>
<rect x="629.3" y="376.8" width="4.5" height="3.5" fill="#7c202d"/>
<rect x="634.8" y="376.8" width="4.5" height="5" fill="#7c202d"/>
<rect x="640.3" y="376.8" width="4.5" height="4.6" fill="#7c202d"/>
<rect x="645.9" y="376.8" width="4.5" height="1" fill="#7c202d"/>
<rect x="651.4" y="372.6" width="4.5" height="4.2" fill="#1b6a45"/>
<rect x="656.9" y="375.1" width="4.5" height="1.7" fill="#1b6a45"/>
<rect x="662.5" y="376.8" width="4.5" height="3.5" fill="#7c202d"/>
<rect x="668" y="376.8" width="4.5" height="8.8" fill="#7c202d"/>
<rect x="673.5" y="376.8" width="4.5" height="16" fill="#7c202d"/>
<rect x="679.1" y="376.8" width="4.5" height="20.3" fill="#7c202d"/>
<rect x="684.6" y="376.8" width="4.5" height="23" fill="#7c202d"/>
<rect x="690.1" y="376.8" width="4.5" height="22.4" fill="#7c202d"/>
<rect x="695.6" y="376.8" width="4.5" height="18.2" fill="#7c202d"/>
<rect x="701.2" y="376.8" width="4.5" height="11" fill="#7c202d"/>
<rect x="706.7" y="376.8" width="4.5" height="4.5" fill="#7c202d"/>
<rect x="712.2" y="375.3" width="4.5" height="1.5" fill="#1b6a45"/>
<rect x="717.8" y="373.8" width="4.5" height="3" fill="#1b6a45"/>
<rect x="723.3" y="372.2" width="4.5" height="4.6" fill="#1b6a45"/>
<rect x="728.8" y="370.5" width="4.5" height="6.3" fill="#1b6a45"/>
<rect x="734.4" y="368.8" width="4.5" height="8" fill="#1b6a45"/>
<rect x="739.9" y="367.4" width="4.5" height="9.4" fill="#1b6a45"/>
<rect x="745.4" y="366.8" width="4.5" height="10" fill="#1b6a45"/>
<rect x="751" y="368.4" width="4.5" height="8.4" fill="#1b6a45"/>
<rect x="756.5" y="370.9" width="4.5" height="5.9" fill="#1b6a45"/>
<rect x="762" y="369.5" width="4.5" height="7.3" fill="#1b6a45"/>
<rect x="767.5" y="365.9" width="4.5" height="10.9" fill="#1b6a45"/>
<rect x="773.1" y="365.3" width="4.5" height="11.5" fill="#1b6a45"/>
<rect x="778.6" y="365.9" width="4.5" height="10.9" fill="#1b6a45"/>
<rect x="784.1" y="369.5" width="4.5" height="7.3" fill="#1b6a45"/>
<rect x="789.7" y="373.8" width="4.5" height="3" fill="#1b6a45"/>
<rect x="795.2" y="375.8" width="4.5" height="1" fill="#1b6a45"/>
<rect x="800.7" y="376.8" width="4.5" height="1" fill="#7c202d"/>
<rect x="806.3" y="376.8" width="4.5" height="1" fill="#7c202d"/>
<rect x="811.8" y="376.8" width="4.5" height="1" fill="#7c202d"/>
<rect x="817.3" y="374.5" width="4.5" height="2.3" fill="#1b6a45"/>
<rect x="822.9" y="373.8" width="4.5" height="3" fill="#1b6a45"/>
<rect x="828.4" y="375.3" width="4.5" height="1.5" fill="#1b6a45"/>
<rect x="833.9" y="376.8" width="4.5" height="1" fill="#7c202d"/>
<rect x="839.5" y="376.8" width="4.5" height="3.5" fill="#7c202d"/>
<rect x="845" y="376.8" width="4.5" height="4.6" fill="#7c202d"/>
<rect x="850.5" y="376.8" width="4.5" height="1" fill="#7c202d"/>
<rect x="856" y="372" width="4.5" height="4.8" fill="#1b6a45"/>
<rect x="861.6" y="372.6" width="4.5" height="4.2" fill="#1b6a45"/>
<rect x="867.1" y="371.4" width="4.5" height="5.4" fill="#1b6a45"/>
<rect x="872.6" y="369.9" width="4.5" height="6.9" fill="#1b6a45"/>
<rect x="878.2" y="369.9" width="4.5" height="6.9" fill="#1b6a45"/>
<rect x="883.7" y="373" width="4.5" height="3.8" fill="#1b6a45"/>
<rect x="889.2" y="375.1" width="4.5" height="1.7" fill="#1b6a45"/>
<polyline points="51.8,327.2 58.5,330 68.9,336.2 79.4,342.5 89.8,346.7 100.3,347.7 110.8,345.7 121.2,340.4 131.7,333.1 142.1,326.4 152.6,321.6 163.1,318.5 167,318.2 171.6,318.5 176,319.3 181.8,320.8 188,323 194,325.2 200.9,327.6 211.4,330 221.8,331.4 232.3,333.1 242.8,336.9 253.2,342.5 263.7,348.2 274.1,354 284.6,359.3 293,362 301.3,361.3 309.7,360.1 320.5,357.8 330.9,355.1 341.4,351.5 351.8,348.4 362.3,346.1 372.8,345.2 383.2,345.7 393.7,346.1 404.1,346.7 414.6,346.7 425.1,346.5 435.5,346.1 443.9,345.4 450.5,345.2 460.9,344.6 471.4,346.1 481.8,346.7 492.3,346.7 502.8,345.7 513.2,345.2 521.6,346.1 527.9,348.8 536.2,352.4 544.6,355.7 553,358.6 561.3,360.3 569.7,360.1 580.5,358.2 590.9,353 601.4,347.7 611.8,344 622.3,342.5 632.8,343.6 643.2,345.7 653.7,344.6 662,344.6 670.4,348.8 678.8,356.1 687.2,363.4 695.5,369.7 703.9,373.6 709,375 714,375 720.9,372.9 731.4,369.7 741.8,365.5 752.3,361.3 762.8,358.2 773.2,353 783.7,348.4 792,346.7 800.4,346.5 810.5,346.7 820.9,345.6 831.4,345.4 841.8,346.7 852.3,346.7 862.8,345.2 873.2,342.5 883.7,339.8 892,338.3" fill="none" stroke="#d84c7c" stroke-width="1.5" stroke-linejoin="round" stroke-linecap="round" />
<polyline points="51.8,330 58.5,338.3 68.9,348.8 79.4,357.2 85.7,358.2 94,354.4 102.4,347.7 110.8,337.3 121.2,322.6 131.7,313.2 138,310.5 146.3,311.8 156.8,315.3 165.2,316.8 173.5,319.5 181.9,326.8 190.5,330.6 200.9,334.8 206.2,335.6 211.4,334.2 221.8,334.2 230.2,335.6 238.6,340.4 244.9,347.7 251.1,357.2 263.7,362.4 274.1,366.6 282.5,370.1 286.7,370.3 293,365.5 301.3,359.3 309.7,356 320.5,353.6 326.7,354.4 333,348.8 341.4,345.2 351.8,341.5 359.2,340.4 365.4,340.4 372.8,344.6 376.9,346.3 383.2,345.7 393.7,346.7 400,347.3 405.2,349.4 410.4,346.1 425.1,346.5 435.5,345.7 443.9,343 446.3,341.9 452.6,341.1 458.8,341.9 465.1,345.7 471.4,347.3 481.8,347.3 492.3,346.7 498.6,344.6 504.9,344 513.2,344.6 519.5,346.7 523.7,353 527.9,359.9 534.1,362 542.5,363.4 548.8,366.6 554,367 560.3,362.8 564.5,358.6 573.9,358.2 578.4,358.2 584.6,351.9 590.9,343.6 599.3,337.7 608.7,335.8 616,338.3 624.4,341.5 632.8,346.7 642.2,349.8 648.4,344.6 653.7,339.8 660,342.5 666.2,349.8 674.6,364.5 680.9,374.9 687.2,383.3 693.4,387.9 697.6,388.5 703.9,384.4 706.3,382.3 712.6,375 719.9,368.3 725.1,367 731.4,364.5 737.7,358.2 743.9,354.4 750.2,351.9 755.4,351.9 758.6,353 762.8,350.9 769,343.6 775.3,339.8 780.5,338.3 785.8,339.8 792,344 796.2,346.1 804.6,346.7 813,346.5 818.8,344 825.1,342.5 831.4,344 837.7,346.1 842.9,349.8 847.1,351.5 851.3,348.8 857.5,341.9 862.8,341.1 869,338.3 875.3,334.8 880.5,333.1 885.8,334.2 892,337.3" fill="none" stroke="#efc76a" stroke-width="1.5" stroke-linejoin="round" stroke-linecap="round" />
<line x1="79.2" y1="293.9" x2="84" y2="293.9" stroke="#d0d0d0" stroke-width="1" stroke-dasharray="1.6 0.8 2.4 1"/>
<rect x="158.5" y="119" width="13.5" height="10" fill="#121212"/>
<polyline points="163.3,120.5 167.4,123.7 163.3,126.9" fill="none" stroke="#f2f2f2" stroke-width="1.6" stroke-linecap="round" stroke-linejoin="round"/>
<polyline points="173.0,318.4 177.0,321.6 173.0,324.8" fill="none" stroke="#f2f2f2" stroke-width="1.6" stroke-linecap="round" stroke-linejoin="round"/>
<g fill="none" stroke="#f4f4f4" stroke-width="1.7" stroke-linecap="round" stroke-linejoin="round"><rect x="867.3" y="21.6" width="14.6" height="18.2" rx="1.6"/><line x1="878.4" y1="21.6" x2="878.4" y2="39.8"/><line x1="865.2" y1="26" x2="869.2" y2="26"/><line x1="865.2" y1="30.7" x2="869.2" y2="30.7"/><line x1="865.2" y1="35.4" x2="869.2" y2="35.4"/></g>
<g fill="none" stroke="#f4f4f4" stroke-width="1.7" stroke-linejoin="round"><polygon points="917.3,30.9 922,22.6 931.3,22.6 936,30.9 931.3,39.2 922,39.2"/><circle cx="926.6" cy="30.9" r="3"/></g>
<g stroke="#f4f4f4" stroke-width="1.8" stroke-linecap="round"><line x1="971.4" y1="25" x2="983.6" y2="37.2"/><line x1="983.6" y1="25" x2="971.4" y2="37.2"/></g>
<g fill="none" stroke="#f4f4f4" stroke-width="1.7" stroke-linecap="round" stroke-linejoin="round"><polyline points="965.8,61.8 965.8,78.6 983,78.6"/><polyline points="969.6,74.6 974,68 977.3,71.2 982.6,62.6"/></g>
<g fill="none" stroke="#b4b4b4" stroke-linecap="round" stroke-linejoin="round" transform="translate(0,0)"><path stroke-width="1.5" d="M967.5,117.7 L967.3,114.9 L976.8,105.5 A2.35,2.35 0 0 1 980.1,108.8 L971.2,117.7"/><path stroke-width="1" fill="#b4b4b4" d="M975.8,106.5 L976.8,105.5 A2.35,2.35 0 0 1 980.1,108.8 L979.1,109.8 Z"/><line stroke-width="1.5" x1="967.5" y1="117.9" x2="981.6" y2="117.9"/></g>
<g fill="none" stroke="#b4b4b4" stroke-linecap="round" stroke-linejoin="round" transform="translate(0,39.6)"><path stroke-width="2.1" d="M968,116.6 L968,114.7 L976.9,105.9 A2.1,2.1 0 0 1 979.9,108.9 L971.8,117"/><path stroke-width="1" fill="#b4b4b4" d="M975.9,106.9 L976.9,105.9 A2.1,2.1 0 0 1 979.9,108.9 L978.9,109.9 Z"/><path stroke-width="1.2" fill="#b4b4b4" d="M967.3,118.2 L967.4,114.6 L971.2,118.3 Z"/><line stroke-width="2" x1="974.2" y1="117.6" x2="982.6" y2="117.6"/></g>
<g fill="none" stroke="#b4b4b4" stroke-width="1.5" stroke-linecap="round" stroke-linejoin="round"><path d="M966.1,192.6 L976.1,183 L982.7,189.2 L972.9,198.6 Z"/><line x1="971.1" y1="187.8" x2="977.8" y2="193.9"/><line x1="972.9" y1="198.7" x2="981.2" y2="198.7"/></g>
<g stroke="#b4b4b4" fill="#b4b4b4"><line x1="967.5" y1="236.4" x2="979.7" y2="224.3" stroke-width="1.3"/><circle cx="967.5" cy="236.4" r="2.5" stroke="none"/><circle cx="979.7" cy="224.3" r="2.5" stroke="none"/></g>
<g stroke="#b4b4b4" fill="#b4b4b4"><line x1="966" y1="270.4" x2="982.6" y2="270.4" stroke-width="1.3" stroke-linecap="round"/><circle cx="974" cy="270.4" r="2.4" stroke="none"/></g>
<g stroke="#b4b4b4" fill="#b4b4b4"><line x1="974" y1="301.4" x2="974" y2="318.4" stroke-width="1.3" stroke-linecap="round"/><circle cx="974" cy="310" r="2.4" stroke="none"/></g>
<g stroke="#b4b4b4" fill="none" stroke-width="1.5" stroke-linecap="round" stroke-linejoin="round"><polyline points="965.8,356.6 968.6,349.6 976.8,353.4 981.8,343.8"/><polyline points="977.4,344.4 981.9,343.6 983.4,347.4"/><circle cx="968.6" cy="349.6" r="1.9" fill="#b4b4b4" stroke="none"/><circle cx="976.8" cy="353.4" r="1.9" fill="#b4b4b4" stroke="none"/></g>
<g stroke="#b4b4b4" fill="none" stroke-width="1.5"><rect x="967.6" y="383.4" width="13" height="12.6"/></g>
<circle cx="967.6" cy="383.4" r="2.2" fill="#b4b4b4"/>
<circle cx="980.6" cy="383.4" r="2.2" fill="#b4b4b4"/>
<circle cx="967.6" cy="396" r="2.2" fill="#b4b4b4"/>
<circle cx="980.6" cy="396" r="2.2" fill="#b4b4b4"/>
<polygon points="968.6,426.6 977.8,422.6 980.8,429.4 976.2,435.8" fill="none" stroke="#b4b4b4" stroke-width="1.5" stroke-linejoin="round"/>
<circle cx="968.6" cy="426.6" r="2.2" fill="#b4b4b4"/>
<circle cx="977.8" cy="422.6" r="2.2" fill="#b4b4b4"/>
<circle cx="980.8" cy="429.4" r="2.2" fill="#b4b4b4"/>
<circle cx="976.2" cy="435.8" r="2.2" fill="#b4b4b4"/>
</svg>
<div class="lg"></div><div class="lr"></div>
<div class="t L" style="left:58px;top:31.3px;font-size:18.4px;color:#fafafa;font-weight:700;letter-spacing:0.2px">DJ30.</div>
<div class="t L" style="left:145.5px;top:31.3px;font-size:18.4px;color:#fafafa;font-weight:700;letter-spacing:0.75px">49149.93</div>
<div class="t L" style="left:241.8px;top:30.8px;font-size:16.2px;color:#ee3a50;font-weight:400;letter-spacing:0.3px;-webkit-text-stroke:0.25px #ee3a50">-49.20 (-0.10%)</div>
<div class="t L" style="left:400.5px;top:30.8px;font-size:14.4px;color:#c4c4c4;font-weight:400;letter-spacing:-0.1px">12:03:24</div>
<div class="t L" style="left:52.5px;top:81.3px;font-size:13.4px;color:#d6d6d6;font-weight:400;letter-spacing:-0.05px;-webkit-text-stroke:0.3px #d6d6d6">Tick Chart</div>
<div class="t C" style="left:171.3px;top:81.3px;font-size:13.4px;color:#d6d6d6;font-weight:400;-webkit-text-stroke:0.3px #d6d6d6">1m</div>
<div class="t C" style="left:260.3px;top:81.3px;font-size:13.4px;color:#d6d6d6;font-weight:400;-webkit-text-stroke:0.3px #d6d6d6">5m</div>
<div class="t C" style="left:354px;top:81.3px;font-size:13.4px;color:#d6d6d6;font-weight:400;-webkit-text-stroke:0.3px #d6d6d6">15m</div>
<div class="t C" style="left:443px;top:81.3px;font-size:13.4px;color:#d6d6d6;font-weight:400;-webkit-text-stroke:0.3px #d6d6d6">30m</div>
<div class="t C" style="left:526.6px;top:81.3px;font-size:13.4px;color:#d6d6d6;font-weight:400;-webkit-text-stroke:0.3px #d6d6d6">1h</div>
<div class="t C" style="left:615.4px;top:81.3px;font-size:13.4px;color:#d6d6d6;font-weight:400;-webkit-text-stroke:0.3px #d6d6d6">4h</div>
<div class="t C" style="left:796.8px;top:81.3px;font-size:13.4px;color:#d6d6d6;font-weight:400;-webkit-text-stroke:0.3px #d6d6d6">1W</div>
<div class="t C" style="left:885.6px;top:81.3px;font-size:13.4px;color:#d6d6d6;font-weight:400;-webkit-text-stroke:0.3px #d6d6d6">1M</div>
<div class="t C" style="left:715px;top:81.3px;font-size:13.6px;color:#f6f6f6;font-weight:700;">1D</div>
<div class="t L" style="left:901.6px;top:150.7px;font-size:11.5px;color:#d4d4d4;font-weight:400;letter-spacing:-0.2px;-webkit-text-stroke:0.25px #d4d4d4">48000.00</div>
<div class="t L" style="left:901.6px;top:194.7px;font-size:11.5px;color:#d4d4d4;font-weight:400;letter-spacing:-0.2px;-webkit-text-stroke:0.25px #d4d4d4">46000.00</div>
<div class="t L" style="left:901.6px;top:240.5px;font-size:11.5px;color:#d4d4d4;font-weight:400;letter-spacing:-0.2px;-webkit-text-stroke:0.25px #d4d4d4">44000.00</div>
<div class="t L" style="left:901.6px;top:269.6px;font-size:11.5px;color:#d4d4d4;font-weight:400;letter-spacing:-0.2px;-webkit-text-stroke:0.25px #d4d4d4">42800.00</div>
<div class="t L" style="left:901.6px;top:299.1px;font-size:11.5px;color:#d4d4d4;font-weight:400;letter-spacing:-0.2px;-webkit-text-stroke:0.25px #d4d4d4">41600.00</div>
<div class="t L" style="left:901.6px;top:338.7px;font-size:11.5px;color:#d4d4d4;font-weight:400;letter-spacing:-0.2px;-webkit-text-stroke:0.25px #d4d4d4">400.00</div>
<div class="t L" style="left:901.6px;top:377.7px;font-size:11.5px;color:#d4d4d4;font-weight:400;letter-spacing:-0.2px;-webkit-text-stroke:0.25px #d4d4d4">0.00</div>
<div class="t L" style="left:901.8px;top:110.8px;font-size:11.2px;color:#ffffff;font-weight:700;letter-spacing:-0.22px">49151.13</div>
<div class="t L" style="left:901.8px;top:127.0px;font-size:11.2px;color:#ffffff;font-weight:700;letter-spacing:-0.22px">49149.93</div>
<div class="t C" style="left:121.9px;top:420.9px;font-size:12.0px;color:#cfcfcf;font-weight:400;letter-spacing:-0.2px;-webkit-text-stroke:0.25px #cfcfcf">07/2025</div>
<div class="t C" style="left:249.5px;top:420.9px;font-size:12.0px;color:#cfcfcf;font-weight:400;letter-spacing:-0.2px;-webkit-text-stroke:0.25px #cfcfcf">08/2025</div>
<div class="t C" style="left:365.5px;top:420.9px;font-size:12.0px;color:#cfcfcf;font-weight:400;letter-spacing:-0.2px;-webkit-text-stroke:0.25px #cfcfcf">09/2025</div>
<div class="t C" style="left:486.9px;top:420.9px;font-size:12.0px;color:#cfcfcf;font-weight:400;letter-spacing:-0.2px;-webkit-text-stroke:0.25px #cfcfcf">10/2025</div>
<div class="t C" style="left:614px;top:420.9px;font-size:12.0px;color:#cfcfcf;font-weight:400;letter-spacing:-0.2px;-webkit-text-stroke:0.25px #cfcfcf">11/2025</div>
<div class="t C" style="left:724.8px;top:420.9px;font-size:12.0px;color:#cfcfcf;font-weight:400;letter-spacing:-0.2px;-webkit-text-stroke:0.25px #cfcfcf">12/2025</div>
<div class="t C" style="left:846.3px;top:420.9px;font-size:12.0px;color:#ffffff;font-weight:700;">2026</div>
<div class="t L" style="left:64.4px;top:124.4px;font-size:12.0px;color:#f4f4f4;font-weight:400;-webkit-text-stroke:0.35px #f4f4f4;background:#121212;padding:0 3px;margin-left:-3px">MA</div>
<div class="t L" style="left:88.6px;top:124.8px;font-size:10.5px;color:#e0e0e0;font-weight:400;-webkit-text-stroke:0.3px #e0e0e0;background:#121212;padding:0 4px 0 3px;margin-left:-3px">(5,10,30)</div>
<div class="t L" style="left:64.4px;top:322.0px;font-size:12.0px;color:#f4f4f4;font-weight:400;-webkit-text-stroke:0.35px #f4f4f4">MACD</div>
<div class="t L" style="left:104.0px;top:322.3px;font-size:10.5px;color:#e0e0e0;font-weight:400;-webkit-text-stroke:0.3px #e0e0e0">(12,26,9)</div>
<div class="t L" style="left:88.0px;top:293.5px;font-size:9.3px;color:#f0f0f0;font-weight:700;letter-spacing:0.5px">41781.45</div>
<div class="t L" style="left:95.6px;top:285.3px;font-size:18px;color:#232323;font-weight:400;">markets</div>
</div></div></body></html>
